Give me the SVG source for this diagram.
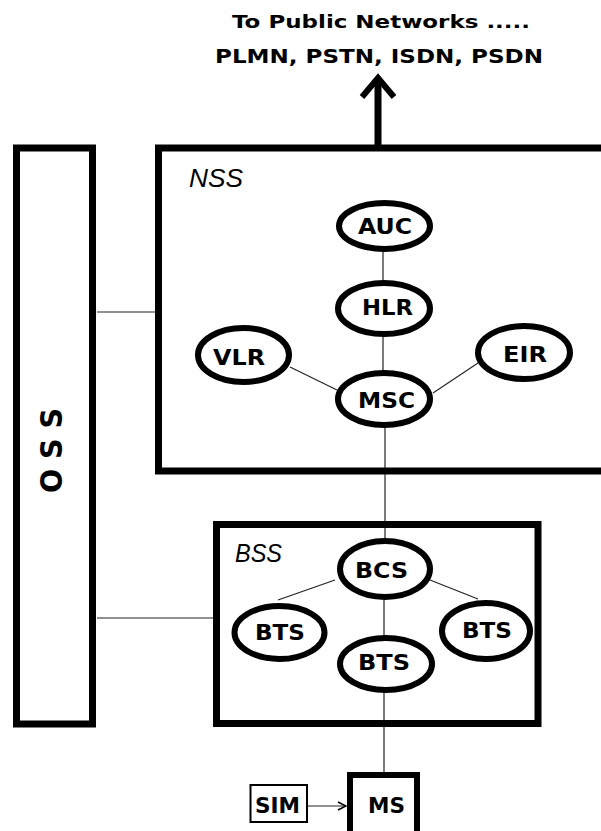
<svg xmlns="http://www.w3.org/2000/svg" width="601" height="831" viewBox="0 0 601 831">
<defs>
<style>
.box{fill:none;stroke:#000;stroke-width:7}
.node{fill:#fff;stroke:#000;stroke-width:6}
.lbl{font-family:"DejaVu Sans","Liberation Sans",Arial,sans-serif;font-weight:bold;font-size:21px;fill:#000}
.ttl{font-family:"DejaVu Sans","Liberation Sans",Arial,sans-serif;font-weight:bold;fill:#000}
.ital{font-family:"Liberation Sans",Arial,sans-serif;font-style:italic;font-size:26px;fill:#000}
.con{stroke:#222;stroke-width:1.2;fill:none}
</style>
<marker id="open" viewBox="0 0 10 10" refX="9" refY="5" markerWidth="10" markerHeight="10" markerUnits="userSpaceOnUse" orient="auto">
<path d="M1,1 L9,5 L1,9" fill="none" stroke="#000" stroke-width="1.5"/>
</marker>
</defs>
<rect width="601" height="831" fill="#fff"/>

<g id="title">
<text class="ttl" x="232" y="28" font-size="18" textLength="298" lengthAdjust="spacingAndGlyphs">To Public Networks .....</text>
<text class="ttl" x="215" y="63" font-size="20" textLength="328" lengthAdjust="spacingAndGlyphs">PLMN, PSTN, ISDN, PSDN</text>
</g>

<g id="connectors">
<line class="con" x1="97" y1="312" x2="155" y2="312"/>
<line class="con" x1="97" y1="618" x2="213" y2="618"/>
<line class="con" x1="383" y1="249" x2="383" y2="283"/>
<line class="con" x1="383" y1="334" x2="383" y2="373"/>
<line class="con" x1="290" y1="367" x2="337" y2="390"/>
<line class="con" x1="478" y1="363" x2="433" y2="393"/>
<line class="con" x1="385" y1="425" x2="385" y2="541"/>
<line class="con" x1="335" y1="580" x2="278" y2="600"/>
<line class="con" x1="430" y1="580" x2="478" y2="599"/>
<line class="con" x1="384" y1="597" x2="384" y2="638"/>
<line class="con" x1="384" y1="690" x2="384" y2="772"/>
<line class="con" x1="307" y1="806" x2="346" y2="806" marker-end="url(#open)"/>
<line x1="378" y1="148" x2="378" y2="80" stroke="#000" stroke-width="7"/>
<polyline points="362,97 378,78 394,97" fill="none" stroke="#000" stroke-width="6"/>
</g>

<g id="OSS">
<rect class="box" x="16.5" y="148" width="76" height="576"/>
<text class="lbl" font-size="22" transform="translate(62,450.5) rotate(-90) scale(1,1.45)" text-anchor="middle" textLength="85" lengthAdjust="spacingAndGlyphs">O S S</text>
</g>

<g id="NSS">
<rect class="box" x="158.5" y="148" width="460" height="323"/>
<text class="ital" x="189" y="187" textLength="54" lengthAdjust="spacingAndGlyphs">NSS</text>
</g>

<g id="BSS">
<rect class="box" x="216.5" y="524.5" width="321.5" height="199"/>
<text class="ital" x="235" y="562" textLength="47" lengthAdjust="spacingAndGlyphs">BSS</text>
</g>

<g id="AUC">
<ellipse class="node" cx="384.5" cy="226" rx="45.5" ry="23"/>
<text class="lbl" x="358" y="234" textLength="54" lengthAdjust="spacingAndGlyphs">AUC</text>
</g>
<g id="HLR">
<ellipse class="node" cx="384" cy="308.5" rx="46" ry="25.5"/>
<text class="lbl" x="362" y="315" textLength="51" lengthAdjust="spacingAndGlyphs">HLR</text>
</g>
<g id="VLR">
<ellipse class="node" cx="243.5" cy="355" rx="45.5" ry="27"/>
<text class="lbl" x="213" y="365" textLength="52" lengthAdjust="spacingAndGlyphs">VLR</text>
</g>
<g id="EIR">
<ellipse class="node" cx="524" cy="352.5" rx="46" ry="26.5"/>
<text class="lbl" x="503" y="362" textLength="44" lengthAdjust="spacingAndGlyphs">EIR</text>
</g>
<g id="MSC">
<ellipse class="node" cx="384" cy="399" rx="46" ry="26"/>
<text class="lbl" x="358" y="408" textLength="57" lengthAdjust="spacingAndGlyphs">MSC</text>
</g>
<g id="BCS">
<ellipse class="node" cx="385" cy="569" rx="45" ry="28"/>
<text class="lbl" x="355" y="578" textLength="53" lengthAdjust="spacingAndGlyphs">BCS</text>
</g>
<g id="BTS-left">
<ellipse class="node" cx="279.5" cy="632.5" rx="45" ry="26.5"/>
<text class="lbl" x="255" y="640" textLength="50" lengthAdjust="spacingAndGlyphs">BTS</text>
</g>
<g id="BTS-right">
<ellipse class="node" cx="486" cy="631" rx="44" ry="28"/>
<text class="lbl" x="462" y="638" textLength="50" lengthAdjust="spacingAndGlyphs">BTS</text>
</g>
<g id="BTS-mid">
<ellipse class="node" cx="386" cy="664" rx="46" ry="26"/>
<text class="lbl" x="358" y="670" textLength="52" lengthAdjust="spacingAndGlyphs">BTS</text>
</g>

<g id="SIM">
<rect x="250.5" y="785" width="56.5" height="37" fill="#fff" stroke="#000" stroke-width="2"/>
<text class="lbl" x="255" y="813" textLength="45" lengthAdjust="spacingAndGlyphs">SIM</text>
</g>
<g id="MS">
<rect x="350" y="775" width="67" height="70" fill="#fff" stroke="#000" stroke-width="6"/>
<text class="lbl" x="368" y="813" textLength="37" lengthAdjust="spacingAndGlyphs">MS</text>
</g>
</svg>
